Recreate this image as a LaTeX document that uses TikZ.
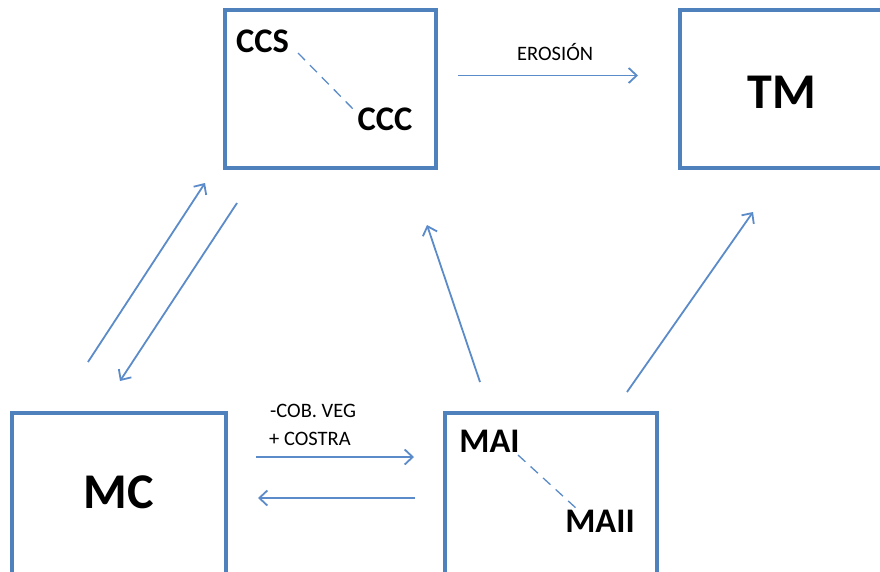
\documentclass[tikz,border=0pt]{standalone}
\usepackage{fontspec}
\setmainfont{Carlito}
\usetikzlibrary{arrows.meta}
\definecolor{boxblue}{HTML}{4F81BD}
\definecolor{arrblue}{HTML}{5B8BC9}
\tikzset{
  boxnode/.style={draw=boxblue, line width=3.2pt, minimum width=#1, minimum height=158pt, inner sep=0pt},
  bigtext/.style={font=\fontsize{50}{50}\selectfont\bfseries, inner sep=0pt, anchor=base},
  midtext/.style={font=\fontsize{34.5}{35}\selectfont\bfseries, inner sep=0pt, anchor=base},
  smalltext/.style={font=\fontsize{20.5}{21}\selectfont, inner sep=0pt, anchor=base west},
  flow/.style={draw=arrblue, line width=1.8pt, -{Straight Barb[length=8pt, width=15pt, line width=1.8pt]}},
  linkdash/.style={draw=arrblue, line width=1.3pt, dash pattern=on 10pt off 7pt}
}
\begin{document}
\begin{tikzpicture}[x=1pt, y=-1pt]
\useasboundingbox (0,0) rectangle (880,571);
% boxes
\node[boxnode=211pt] (boxc) at (330.5,89) {};
\node[boxnode=209pt] (boxtm) at (784.5,89) {};
\node[boxnode=214pt, minimum height=166pt] (boxmc) at (119,496) {};
\node[boxnode=212pt, minimum height=166pt] (boxma) at (551,496) {};
% labels
\node[midtext] (ccs) at (262.5,52) {CCS};
\node[midtext] (ccc) at (385,130) {CCC};
\node[bigtext] (tm) at (782,108) {TM};
\node[bigtext] (mc) at (118.5,508) {MC};
\node[midtext] (mai) at (489.5,452) {MAI};
\node[midtext] (maii) at (600,532) {MAII};
\node[smalltext] (ero) at (517,60) {EROSIÓN};
\node[smalltext] (cob) at (270,417) {-COB. VEG};
\node[smalltext] (cos) at (269,445) {+ COSTRA};
% dashed links
\coordinate (d1a) at (298,53);
\coordinate (d1b) at (356,112);
\coordinate (d2a) at (518,455);
\coordinate (d2b) at (577,509);
\draw[linkdash] (d1a) -- (d1b);
\draw[linkdash] (d2a) -- (d2b);
% arrow ends
\coordinate (e1) at (458,75.5);
\coordinate (e2) at (638,75.5);
\coordinate (a1) at (256,457);
\coordinate (a2) at (414,457);
\coordinate (b1) at (415,498);
\coordinate (b2) at (258,498);
\coordinate (c1) at (88,362);
\coordinate (c2) at (205,183);
\coordinate (f1) at (237,203);
\coordinate (f2) at (120,381);
\coordinate (g1) at (480,382);
\coordinate (g2) at (427,225);
\coordinate (h1) at (627,392);
\coordinate (h2) at (753,212);
\draw[flow] (e1) -- (e2);
\draw[flow] (a1) -- (a2);
\draw[flow] (b1) -- (b2);
\draw[flow] (c1) -- (c2);
\draw[flow] (f1) -- (f2);
\draw[flow] (g1) -- (g2);
\draw[flow] (h1) -- (h2);
\end{tikzpicture}
\end{document}
